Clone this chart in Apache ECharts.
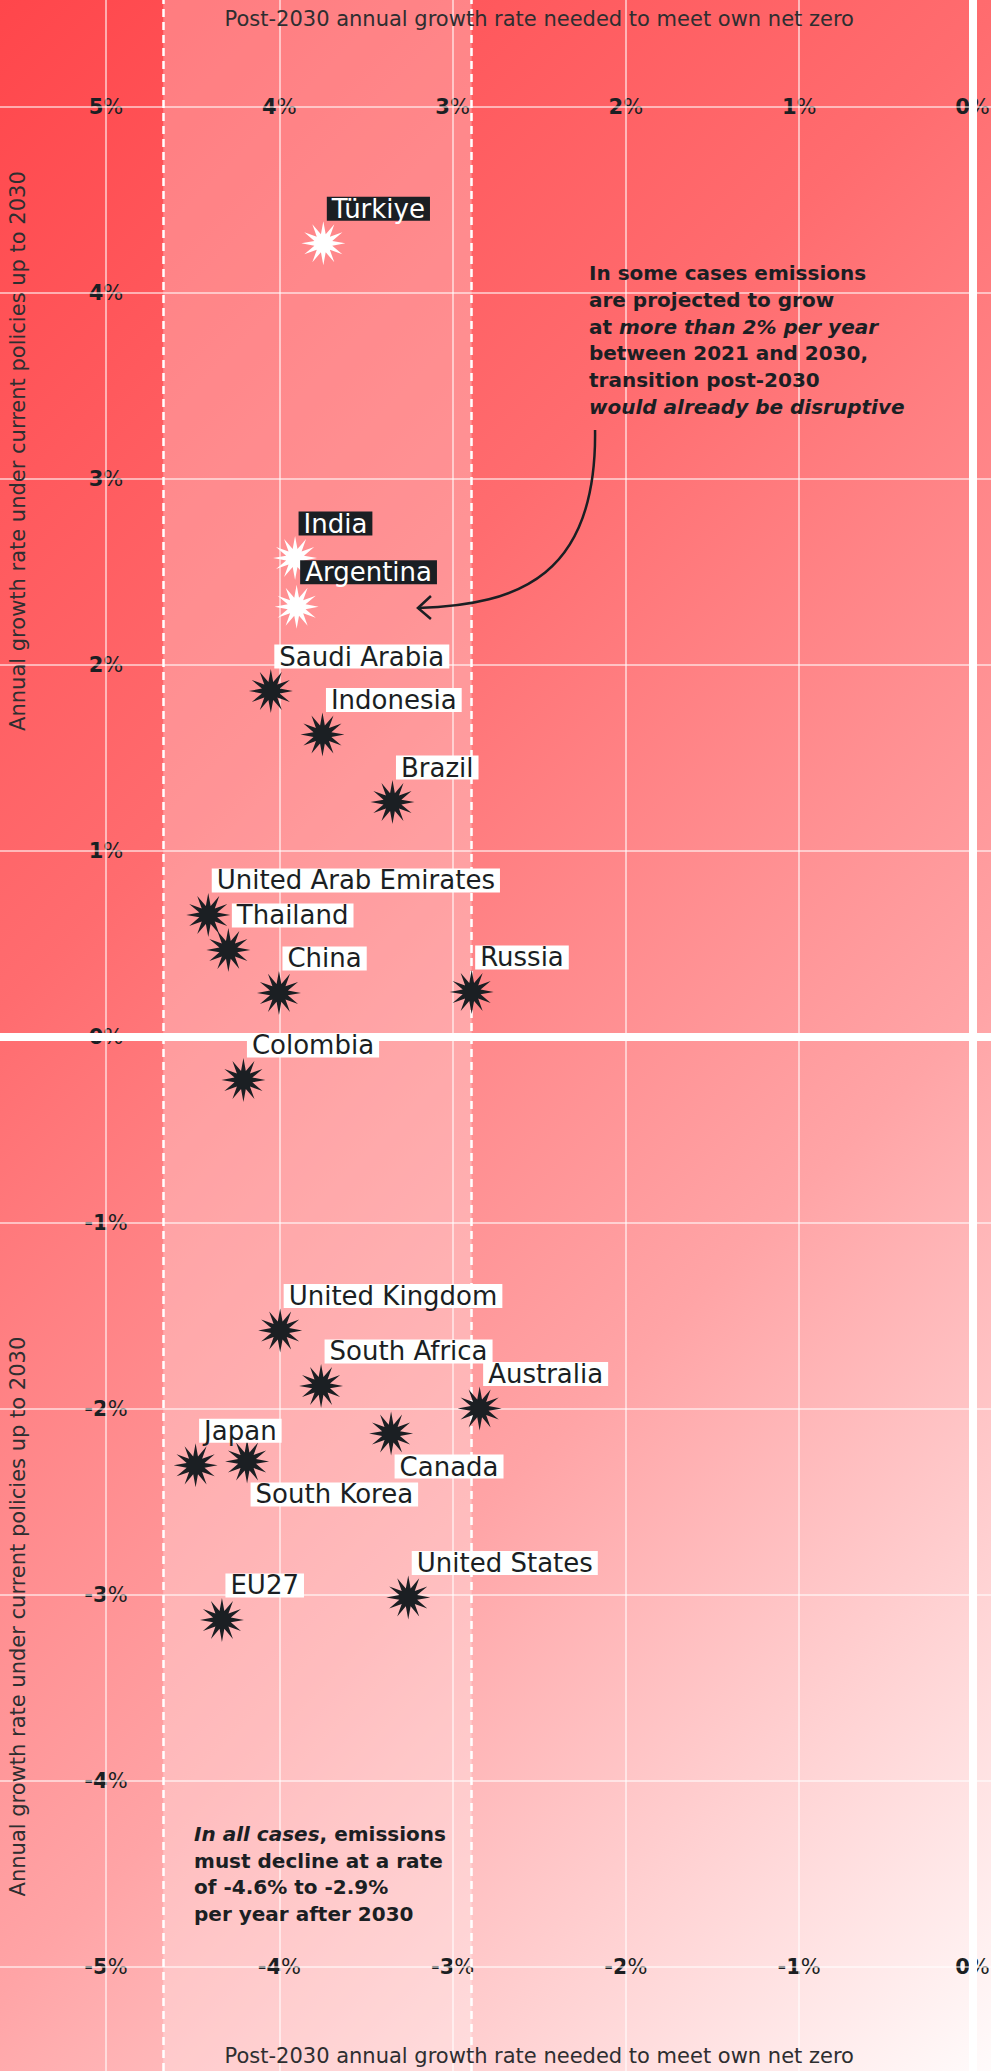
<!DOCTYPE html>
<html><head><meta charset="utf-8">
<script src="https://cdn.jsdelivr.net/npm/echarts@6/dist/echarts.min.js"></script>
<style>html,body{margin:0;padding:0;background:#fff;} #c{width:991px;height:2071px;}</style>
</head><body><div id="c"></div>
<script>
// ---- data ----
const countries = ['Türkiye','India','Argentina','Saudi Arabia','Indonesia','Brazil','United Arab Emirates','Thailand','China','Russia','Colombia','United Kingdom','South Africa','Australia','Canada','Japan','South Korea','United States','EU27'];
const postGrowth = [-3.746,-3.909,-3.900,-4.049,-3.751,-3.347,-4.410,-4.294,-4.002,-2.890,-4.207,-3.995,-3.759,-2.844,-3.355,-4.483,-4.186,-3.256,-4.331];
const currentGrowth = [4.267,2.575,2.313,1.860,1.626,1.263,0.656,0.468,0.237,0.242,-0.231,-1.578,-1.876,-1.997,-2.132,-2.303,-2.282,-3.013,-3.134];
const highlighted = ['Türkiye','India','Argentina'];
const labelsBelow = ['Canada','South Korea'];
const xTickValues = [-5,-4,-3,-2,-1,0];
const yTickValues = [5,4,3,2,1,0,-1,-2,-3,-4,-5];
const yTickLabels = ['5%','4%','3%','2%','1%','0%','-1%','-2%','-3%','-4%','-5%'];
const xTopTickLabels = ['5%','4%','3%','2%','1%','0%'];
const xBottomTickLabels = ['-5%','-4%','-3%','-2%','-1%','0%'];
const bandRange = [-4.67, -2.89];
const xTitle = 'Post-2030 annual growth rate needed to meet own net zero';
const yTitle = 'Annual growth rate under current policies up to 2030';

// ---- styling ----
const FONT = 'DejaVu Sans';
const INK = '#1b1f23';
const S = 44;
function starPath(n, rIn){
  const pts=[];
  for(let i=0;i<2*n;i++){
    const a=-Math.PI/2+i*Math.PI/n, r=(i%2)?rIn:1;
    pts.push((50+50*r*Math.cos(a)).toFixed(2)+' '+(50+50*r*Math.sin(a)).toFixed(2));
  }
  return 'path://M'+pts.join(' L')+' Z';
}
const STAR = starPath(12, 0.42);

const chart = echarts.init(document.getElementById('c'), null, {renderer:'svg', width:991, height:2071});

const thin = {color:'rgba(255,255,255,0.72)', width:1.5, type:'solid'};
const thick = {color:'#ffffff', width:8, type:'solid', opacity:1};
const lineData = [];
xTickValues.forEach(v=>lineData.push({xAxis:v, lineStyle: v===0?thick:thin}));
yTickValues.forEach(v=>lineData.push({yAxis:v, lineStyle: v===0?thick:thin}));
bandRange.forEach(v=>lineData.push({xAxis:v, lineStyle:{color:'#ffffff', width:2.5, type:[8,5]}}));

const pointData = countries.map((name,i)=>{
  const hi = highlighted.includes(name);
  const below = labelsBelow.includes(name);
  return {
    name, value:[postGrowth[i], currentGrowth[i]],
    itemStyle:{color: hi?'#ffffff':INK, opacity:1},
    label:{
      position: below ? [S/2+3.5, S/2+21] : [S/2+3.5, S/2-22.5],
      verticalAlign: below ? 'top' : 'bottom', align:'left',
      backgroundColor: hi ? INK : '#ffffff', color: hi ? '#ffffff' : INK
    }
  };
});

function tickRich(s){ return '{n|'+s.slice(0,-1)+'}{p|%}'; }
const tickData = [];
yTickValues.forEach((v,i)=>tickData.push({name:tickRich(yTickLabels[i]), value:[-5, v]}));
xTickValues.forEach((v,i)=>{ if(v!==-5){
  tickData.push({name:tickRich(xTopTickLabels[i]), value:[v, 5]});
  tickData.push({name:tickRich(xBottomTickLabels[i]), value:[v, -5]});
}});

const bgFill = {type:'linear', x:0, y:0, x2:1531, y2:1531, global:true,
  colorStops:[{offset:0,color:'#ff464b'},{offset:0.33,color:'#ff6c6f'},{offset:0.65,color:'#ffa4a6'},{offset:1,color:'#fffbfb'}]};

chart.setOption({
  animation:false,
  grid:{left:0,right:0,top:0,bottom:0},
  xAxis:{type:'value', min:-5.6117, max:0.1068, show:false},
  yAxis:{type:'value', min:-5.559, max:5.575, show:false},
  series:[
    {type:'scatter', name:'grid', data:[], silent:true, z:1,
      markArea:{silent:true, itemStyle:{color:'rgba(255,255,255,0.27)'}, data:[[{xAxis:bandRange[0]},{xAxis:bandRange[1]}]]},
      markLine:{silent:true, symbol:['none','none'], label:{show:false}, data:lineData}},
    {type:'scatter', name:'ticks', data:tickData, symbolSize:1, silent:true, z:3,
      itemStyle:{color:'rgba(0,0,0,0)', opacity:1},
      label:{show:true, position:'inside', opacity:1, formatter:p=>p.name,
        rich:{n:{fontFamily:FONT, fontWeight:'bold', fontSize:21, color:INK},
              p:{fontFamily:FONT, fontWeight:'normal', fontSize:21, color:INK}}}},
    {type:'scatter', name:'countries', data:pointData, symbol:STAR, symbolSize:S, z:5,
      itemStyle:{opacity:1},
      label:{show:true, opacity:1, formatter:p=>p.name, fontFamily:FONT, fontSize:26, lineHeight:24, padding:[0,5]}}
  ]
});

function P(x,y){ return chart.convertToPixel({gridIndex:0},[x,y]); }
const titleStyle = {font:'21px "DejaVu Sans"', fill:'#2e2e30', align:'center', verticalAlign:'middle'};
const tTop = P(-2.5, 5.475), tBot = P(-2.5, -5.478), yTop = P(-5.505, 3.15), yBot = P(-5.505, -3.116);
const a1 = P(-2.213, 4.177), a2 = P(-4.492, -4.213);
const s0=P(-2.178,3.263), c1=P(-2.167,2.484), c2=P(-2.611,2.323), e0=P(-3.200,2.306), h1=P(-3.125,2.371), h2=P(-3.125,2.247);
const b = {fontFamily:FONT, fontWeight:'bold', fontSize:20, lineHeight:26.7, fill:INK};
const bi = Object.assign({}, b, {fontStyle:'italic'});
chart.setOption({graphic:[
  {type:'rect', z:-100, silent:true, shape:{x:0,y:0,width:991,height:2071}, style:{fill:bgFill}},
  {type:'text', x:tTop[0], y:tTop[1], z:10, style:Object.assign({text:xTitle}, titleStyle)},
  {type:'text', x:tBot[0], y:tBot[1], z:10, style:Object.assign({text:xTitle}, titleStyle)},
  {type:'text', x:yTop[0], y:yTop[1], rotation:Math.PI/2, z:10, style:Object.assign({text:yTitle}, titleStyle)},
  {type:'text', x:yBot[0], y:yBot[1], rotation:Math.PI/2, z:10, style:Object.assign({text:yTitle}, titleStyle)},
  {type:'text', x:a1[0], y:a1[1], z:10, style:{
    text:'{b|In some cases emissions}\n{b|are projected to grow}\n{b|at }{bi|more than 2% per year}\n{b|between 2021 and 2030,}\n{b|transition post-2030}\n{bi|would already be disruptive}',
    align:'left', verticalAlign:'top', rich:{b:b, bi:bi}}},
  {type:'text', x:a2[0], y:a2[1], z:10, style:{
    text:'{bi|In all cases}{b|, emissions}\n{b|must decline at a rate}\n{b|of -4.6% to -2.9%}\n{b|per year after 2030}',
    align:'left', verticalAlign:'top', rich:{b:b, bi:bi}}},
  {type:'bezierCurve', z:10, silent:true, shape:{x1:s0[0],y1:s0[1],cpx1:c1[0],cpy1:c1[1],cpx2:c2[0],cpy2:c2[1],x2:e0[0],y2:e0[1]},
    style:{stroke:INK, lineWidth:2.5, fill:null}},
  {type:'polyline', z:10, silent:true, shape:{points:[h1,e0,h2]}, style:{stroke:INK, lineWidth:2.5, fill:null}}
]});
</script></body></html>
